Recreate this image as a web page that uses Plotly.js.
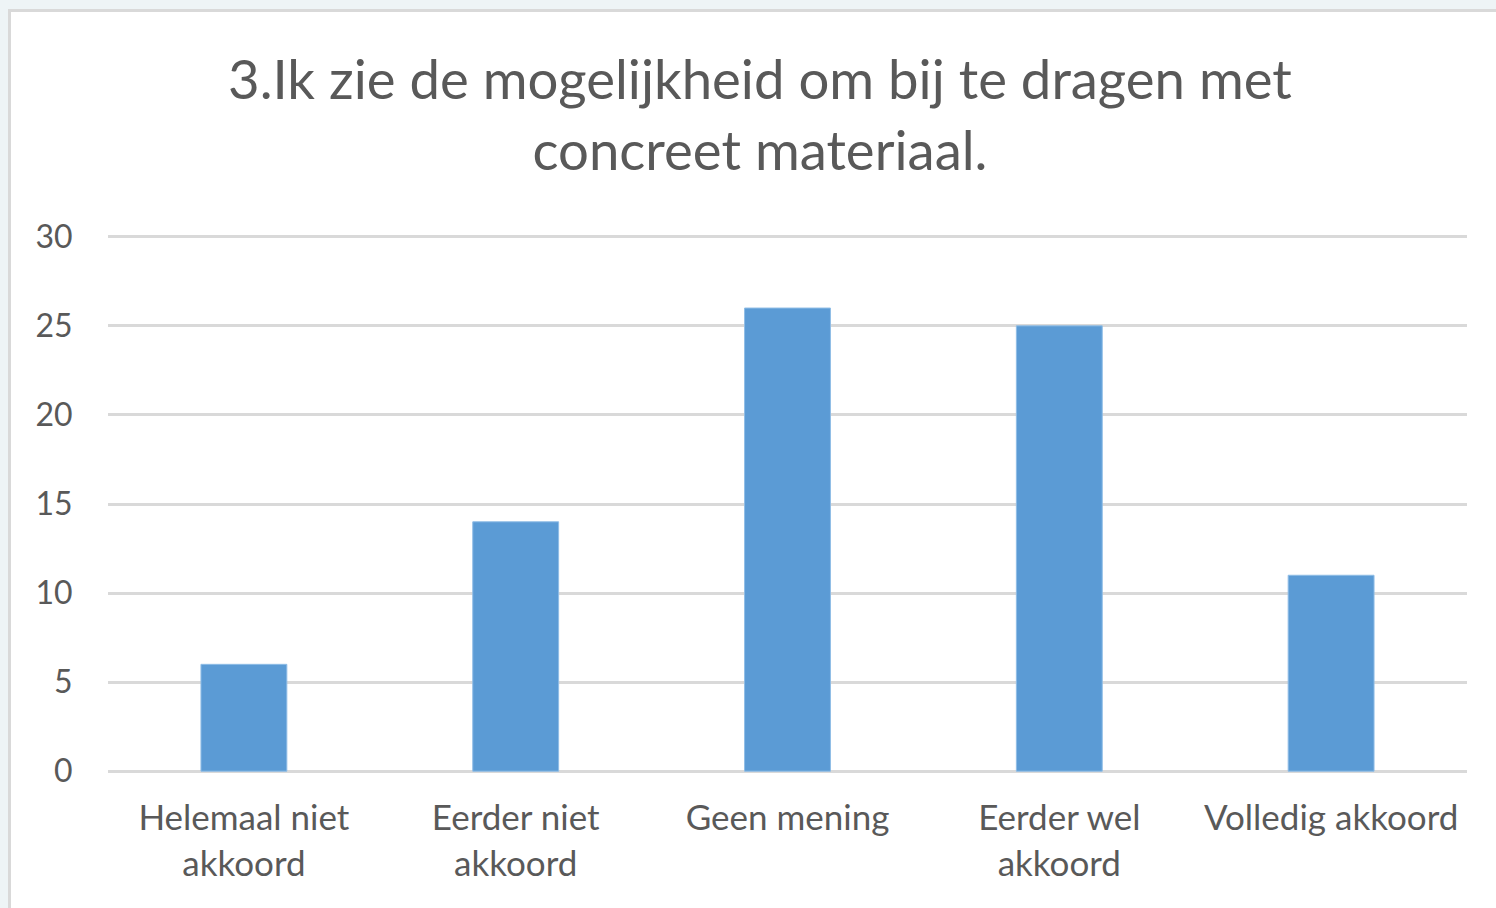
<!DOCTYPE html>
<html>
<head>
<meta charset="utf-8">
<script src="https://cdn.plot.ly/plotly-3.0.1.min.js"></script>
<style>
  html, body { margin: 0; padding: 0; width: 1496px; height: 908px; overflow: hidden; background: #eef4f6; }
  #frame { position: absolute; left: 8px; top: 9px; width: 1488px; height: 899px; background: #ffffff;
           border-left: 3px solid #d9d9d9; border-top: 3px solid #d9d9d9; box-sizing: border-box; }
  #chart { position: absolute; left: 0; top: 0; width: 1496px; height: 908px; }
</style>
</head>
<body>
<div id="frame"></div>
<div id="chart"></div>
<script>
const categories = ["Helemaal niet<br>akkoord", "Eerder niet<br>akkoord", "Geen mening", "Eerder wel<br>akkoord", "Volledig akkoord"];
const values = [6, 14, 26, 25, 11];
const yTicks = [0, 5, 10, 15, 20, 25, 30];
const titleText = "3.Ik zie de mogelijkheid om bij te dragen met<br>concreet materiaal.";

const fontFam = "Lato, 'Open Sans', sans-serif";
const textColor = "#595959";

const trace = {
  type: "bar",
  x: categories,
  y: values,
  marker: { color: "#5b9bd5", line: { color: "#8fbde6", width: 1 } },
  hoverinfo: "skip"
};

const layout = {
  width: 1496,
  height: 908,
  margin: { l: 108, r: 29, t: 235, b: 135, pad: 0 },
  paper_bgcolor: "rgba(0,0,0,0)",
  plot_bgcolor: "rgba(0,0,0,0)",
  bargap: 0.684,
  showlegend: false,
  title: {
    text: titleText,
    font: { family: fontFam, size: 54.5, color: textColor },
    xref: "container", x: 0.508, xanchor: "center",
    yref: "container", y: 0.891, yanchor: "top"
  },
  xaxis: {
    type: "category",
    tickfont: { family: fontFam, size: 35, color: textColor },
    showgrid: false, showline: false, zeroline: false,
    ticks: "outside", ticklen: 14, tickcolor: "rgba(0,0,0,0)"
  },
  yaxis: {
    range: [-0.1, 30.1],
    tickvals: yTicks,
    ticktext: yTicks.map(String),
    tickfont: { family: fontFam, size: 32, color: textColor },
    showgrid: true, gridcolor: "#d9d9d9", gridwidth: 3,
    zeroline: false, showline: false,
    ticks: "outside", ticklen: 28, tickcolor: "rgba(0,0,0,0)"
  }
};

Plotly.newPlot("chart", [trace], layout, { staticPlot: true, displayModeBar: false });
</script>
</body>
</html>
